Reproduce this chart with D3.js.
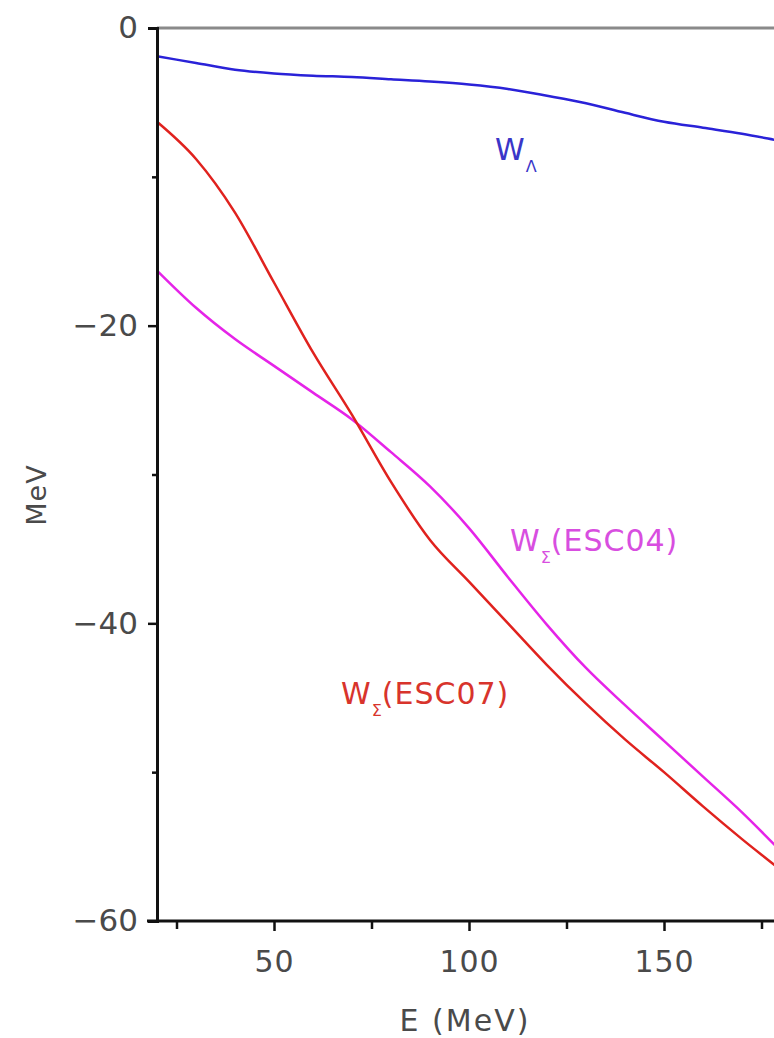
<!DOCTYPE html>
<html><head><meta charset="utf-8">
<script src="https://cdn.jsdelivr.net/npm/d3@7"></script>
<style>html,body{margin:0;padding:0;background:#fff;overflow:hidden}</style>
</head><body>
<svg id="c" width="774" height="1038"></svg>
<script>
const energies = [20,30,40,50,60,70,80,90,100,110,120,130,140,150,160,170,180,190];
const wLambda  = [-1.9,-2.35,-2.8,-3.05,-3.2,-3.3,-3.45,-3.6,-3.8,-4.1,-4.55,-5.05,-5.7,-6.3,-6.7,-7.1,-7.6,-8.1];
const wSigma07 = [-6.3,-8.8,-12.4,-17.1,-21.8,-26.0,-30.5,-34.4,-37.2,-40.0,-42.8,-45.4,-47.8,-50.0,-52.3,-54.5,-56.6,-58.8];
const wSigma04 = [-16.3,-18.8,-20.9,-22.7,-24.5,-26.3,-28.5,-30.8,-33.6,-36.9,-40.1,-43.0,-45.5,-47.9,-50.3,-52.7,-55.3,-57.8];
const xMajorTicks = [50,100,150];
const xMinorTicks = [25,75,125,175];
const yMajorTicks = [0,-20,-40,-60];
const yMinorTicks = [-10,-30,-50];

const svg = d3.select("#c");
const x = d3.scaleLinear().domain([20,200]).range([157,157+180*3.9]);
const y = d3.scaleLinear().domain([0,-60]).range([28,921]);
const font = "'DejaVu Sans', 'Liberation Sans', sans-serif";
const txt = "#4a4a4a";

// top frame line
svg.append("line").attr("x1",157).attr("x2",774).attr("y1",y(0)).attr("y2",y(0))
  .attr("stroke","#8a8a8a").attr("stroke-width",3);

// curves
const line = d3.line().x((d,i)=>x(energies[i])).y(d=>y(d)).curve(d3.curveMonotoneX);
const series = [
  {v:wLambda, c:"#2a22d8"},
  {v:wSigma04, c:"#e524e8"},
  {v:wSigma07, c:"#e0221e"}
];
series.forEach(s=>{
  svg.append("path").attr("d",line(s.v)).attr("fill","none")
    .attr("stroke",s.c).attr("stroke-width",2.5).attr("stroke-linejoin","round");
});

// y axis
const yAx = svg.append("g").attr("transform","translate(157,0)");
yAx.call(d3.axisLeft(y).tickValues(yMajorTicks).tickSize(9).tickPadding(10)
  .tickFormat(d=>d===0?"0":"\u2212"+Math.abs(d)));
yAx.append("g").call(d3.axisLeft(y).tickValues(yMinorTicks).tickSize(5).tickFormat(""))
  .select(".domain").remove();
yAx.selectAll(".domain").attr("stroke","#111").attr("stroke-width",3);
yAx.selectAll(".tick line").attr("stroke","#111").attr("stroke-width",2.5);
yAx.selectAll(".tick text").attr("font-family",font).attr("font-size",31)
  .attr("letter-spacing",0).attr("fill",txt);

// x axis
const xAx = svg.append("g").attr("transform",`translate(0,${y(-60)})`);
xAx.call(d3.axisBottom(x).tickValues(xMajorTicks).tickSize(10).tickPadding(20).tickSizeOuter(0));
xAx.append("g").call(d3.axisBottom(x).tickValues(xMinorTicks).tickSize(8).tickFormat(""))
  .select(".domain").remove();
xAx.select(".domain").attr("d",`M147,0H${x(200)}`).attr("stroke","#111").attr("stroke-width",3);
xAx.selectAll(".tick line").attr("stroke","#111").attr("stroke-width",2.5);
xAx.selectAll(".tick text").attr("font-family",font).attr("font-size",30)
  .attr("letter-spacing",1).attr("fill",txt);

// axis titles
svg.append("text").attr("x",465).attr("y",1031).attr("text-anchor","middle")
  .attr("font-family",font).attr("font-size",30).attr("letter-spacing",2).attr("fill",txt).text("E (MeV)");
svg.append("text").attr("transform","translate(46,495) rotate(-90)").attr("text-anchor","middle")
  .attr("font-family",font).attr("font-size",27).attr("letter-spacing",1).attr("fill",txt).text("MeV");

// curve labels
function lab(xp,yp,sub,rest,color){
  const t = svg.append("text").attr("x",xp).attr("y",yp).attr("font-family",font)
    .attr("font-size",30).attr("letter-spacing",1).attr("fill",color);
  t.append("tspan").text("W");
  t.append("tspan").attr("font-size",16).attr("dy",12).attr("letter-spacing",0).text(sub);
  if(rest) t.append("tspan").attr("dy",-12).text(rest);
}
lab(495,160,"\u039B","", "#3a36c8");
lab(510,551,"\u03A3","(ESC04)","#d84ee0");
lab(341,704,"\u03A3","(ESC07)","#d8342c");
</script>
</body></html>
